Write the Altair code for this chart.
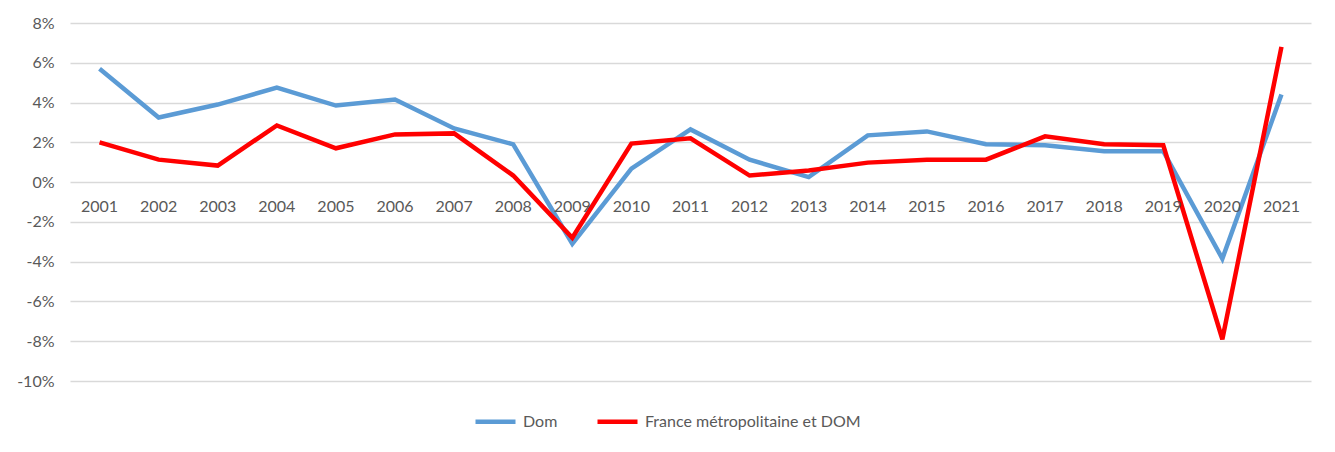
import altair as alt
import pandas as pd

years = ["2001", "2002", "2003", "2004", "2005", "2006", "2007", "2008", "2009", "2010",
         "2011", "2012", "2013", "2014", "2015", "2016", "2017", "2018", "2019", "2020", "2021"]
dom = [5.7, 3.25, 3.9, 4.75, 3.85, 4.15, 2.7, 1.9, -3.1, 0.68,
       2.65, 1.13, 0.25, 2.35, 2.55, 1.9, 1.85, 1.55, 1.55, -3.85, 4.4]
france = [2.0, 1.13, 0.83, 2.85, 1.7, 2.4, 2.45, 0.33, -2.8, 1.94,
          2.2, 0.33, 0.58, 0.98, 1.13, 1.13, 2.3, 1.9, 1.85, -7.9, 6.8]
series = ["Dom", "France métropolitaine et DOM"]
colors = ["#5B9BD5", "#FF0000"]
y_ticks = [-10, -8, -6, -4, -2, 0, 2, 4, 6, 8]

rows = []
for i, y in enumerate(years):
    rows.append({"year": y, "series": series[0], "value": dom[i], "k": 0})
    rows.append({"year": y, "series": series[1], "value": france[i], "k": 1})
df = pd.DataFrame(rows)
labels_df = pd.DataFrame({"year": years})

FONT = "Lato"
TXT = "#595959"

x_enc = alt.X("year:O", axis=None, sort=years, scale=alt.Scale(padding=0.5))
y_scale = alt.Scale(domain=[-10, 8], nice=False, zero=False)
y_axis = alt.Axis(values=y_ticks, labelExpr="datum.value + '%'", title=None,
                  domain=False, ticks=False, labelFontSize=16, labelColor=TXT,
                  labelFont=FONT, labelPadding=16, gridColor="#D9D9D9",
                  gridWidth=1.5, grid=True, labelOverlap=False, tickCount=10)

lines = alt.Chart(df).mark_line(strokeWidth=4.5).encode(
    x=x_enc,
    y=alt.Y("value:Q", scale=y_scale, axis=y_axis),
    color=alt.Color("series:N",
                    scale=alt.Scale(domain=series, range=colors),
                    legend=alt.Legend(title=None, orient="none", direction="horizontal",
                                      legendX=403, legendY=376, symbolType="stroke",
                                      symbolSize=1600, symbolStrokeWidth=4.5,
                                      labelFontSize=16, labelColor=TXT, labelFont=FONT,
                                      columnPadding=30, labelOffset=5, labelLimit=400)),
    order=alt.Order("k:Q"),
    detail="series:N",
)

xlabels = alt.Chart(labels_df).mark_text(
    fontSize=16, color=TXT, font=FONT, baseline="middle", dy=25
).encode(
    x=x_enc,
    y=alt.Y(datum=0, type="quantitative", scale=y_scale, axis=y_axis),
    text="year:N",
)

chart = alt.layer(lines, xlabels).properties(
    width=1241, height=358,
    autosize=alt.AutoSizeParams(type="none"),
    padding={"left": 62, "top": 15, "right": 16, "bottom": 63},
    background="white",
).configure_view(stroke=None)

chart.save("out.html", embed_options={"renderer": "svg", "actions": False})
